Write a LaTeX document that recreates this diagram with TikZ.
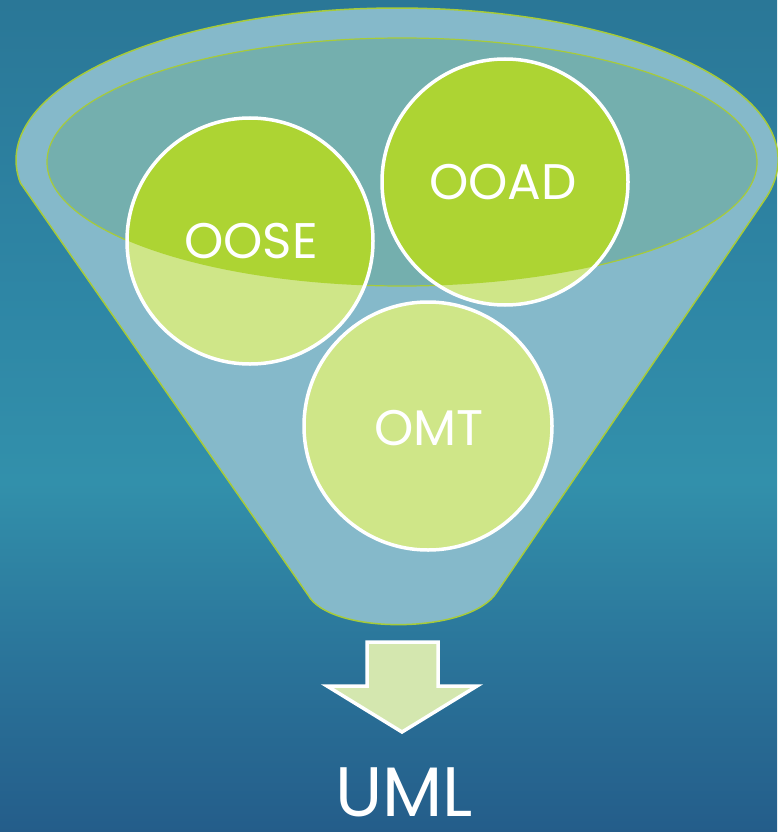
\documentclass[tikz,border=0pt]{standalone}
\usepackage{fontspec}
\setmainfont{Poppins}
\definecolor{bgA}{HTML}{2A7797}
\definecolor{bgB}{HTML}{2E86A5}
\definecolor{bgC}{HTML}{3290AB}
\definecolor{bgD}{HTML}{2A7399}
\definecolor{bgE}{HTML}{245D8A}
\definecolor{funnelfill}{HTML}{85B9CA}
\definecolor{funnelline}{HTML}{A7CB3A}
\definecolor{innerfill}{HTML}{74AFAE}
\definecolor{ballpale}{HTML}{CFE688}
\definecolor{ballvivid}{HTML}{ADD433}
\definecolor{arrowfill}{HTML}{D4E7AF}
\pgfdeclareverticalshading{bgshade}{100bp}{color(0bp)=(bgE); color(25bp)=(bgE); color(35bp)=(bgD); color(46bp)=(bgC); color(57.5bp)=(bgB); color(75bp)=(bgA); color(100bp)=(bgA)}
\begin{document}
\begin{tikzpicture}[x=1pt,y=-1pt,
  funnelstyle/.style={fill=funnelfill,draw=funnelline,line width=1.5pt,line join=round},
  innerstyle/.style={fill=innerfill,draw=funnelline,line width=1.2pt},
  ballborder/.style={draw=white,line width=3.5pt},
  balllabel/.style={text=white,font=\fontsize{50}{50}\selectfont,inner sep=0pt},
  arrowstyle/.style={fill=arrowfill,draw=white,line width=3.5pt,line join=miter}]
\useasboundingbox (0,0) rectangle (777,832);
\shade[shading=bgshade] (0,0) rectangle (777,832);
% funnel body
\path[funnelstyle] (20.4,183) -- (308,595)
  .. controls (330,635) and (470,635) .. (497,592)
  -- (766.7,196.8) arc[start angle=14,end angle=-188.7,x radius=381,y radius=152] -- cycle;
% inner ellipse
\path[innerstyle] (402,162) ellipse[x radius=355,y radius=124];
% balls, pale fill
\fill[ballpale] (250,241) circle[radius=123];
\fill[ballpale] (505,182) circle[radius=123];
\fill[ballpale] (428,426) circle[radius=124];
% vivid part inside the ellipse
\begin{scope}
  \clip (402,162) ellipse[x radius=355,y radius=124];
  \fill[ballvivid] (250,241) circle[radius=123];
  \fill[ballvivid] (505,182) circle[radius=123];
  \fill[ballvivid] (428,426) circle[radius=124];
\end{scope}
\draw[ballborder] (250,241) circle[radius=123];
\draw[ballborder] (505,182) circle[radius=123];
\draw[ballborder] (428,426) circle[radius=124];
\node[balllabel] (oose) at (251,241) {OOSE};
\node[balllabel] (ooad) at (503,182) {OOAD};
\node[balllabel] (omt) at (429,428) {OMT};
% arrow
\path[arrowstyle] (367,642) -- (438,642) -- (438,686) -- (477,686) -- (402,732) -- (327,686) -- (367,686) -- cycle;
\node[text=white,font=\fontsize{70}{70}\selectfont,inner sep=0pt] (uml) at (404,792) {UML};
\end{tikzpicture}
\end{document}
